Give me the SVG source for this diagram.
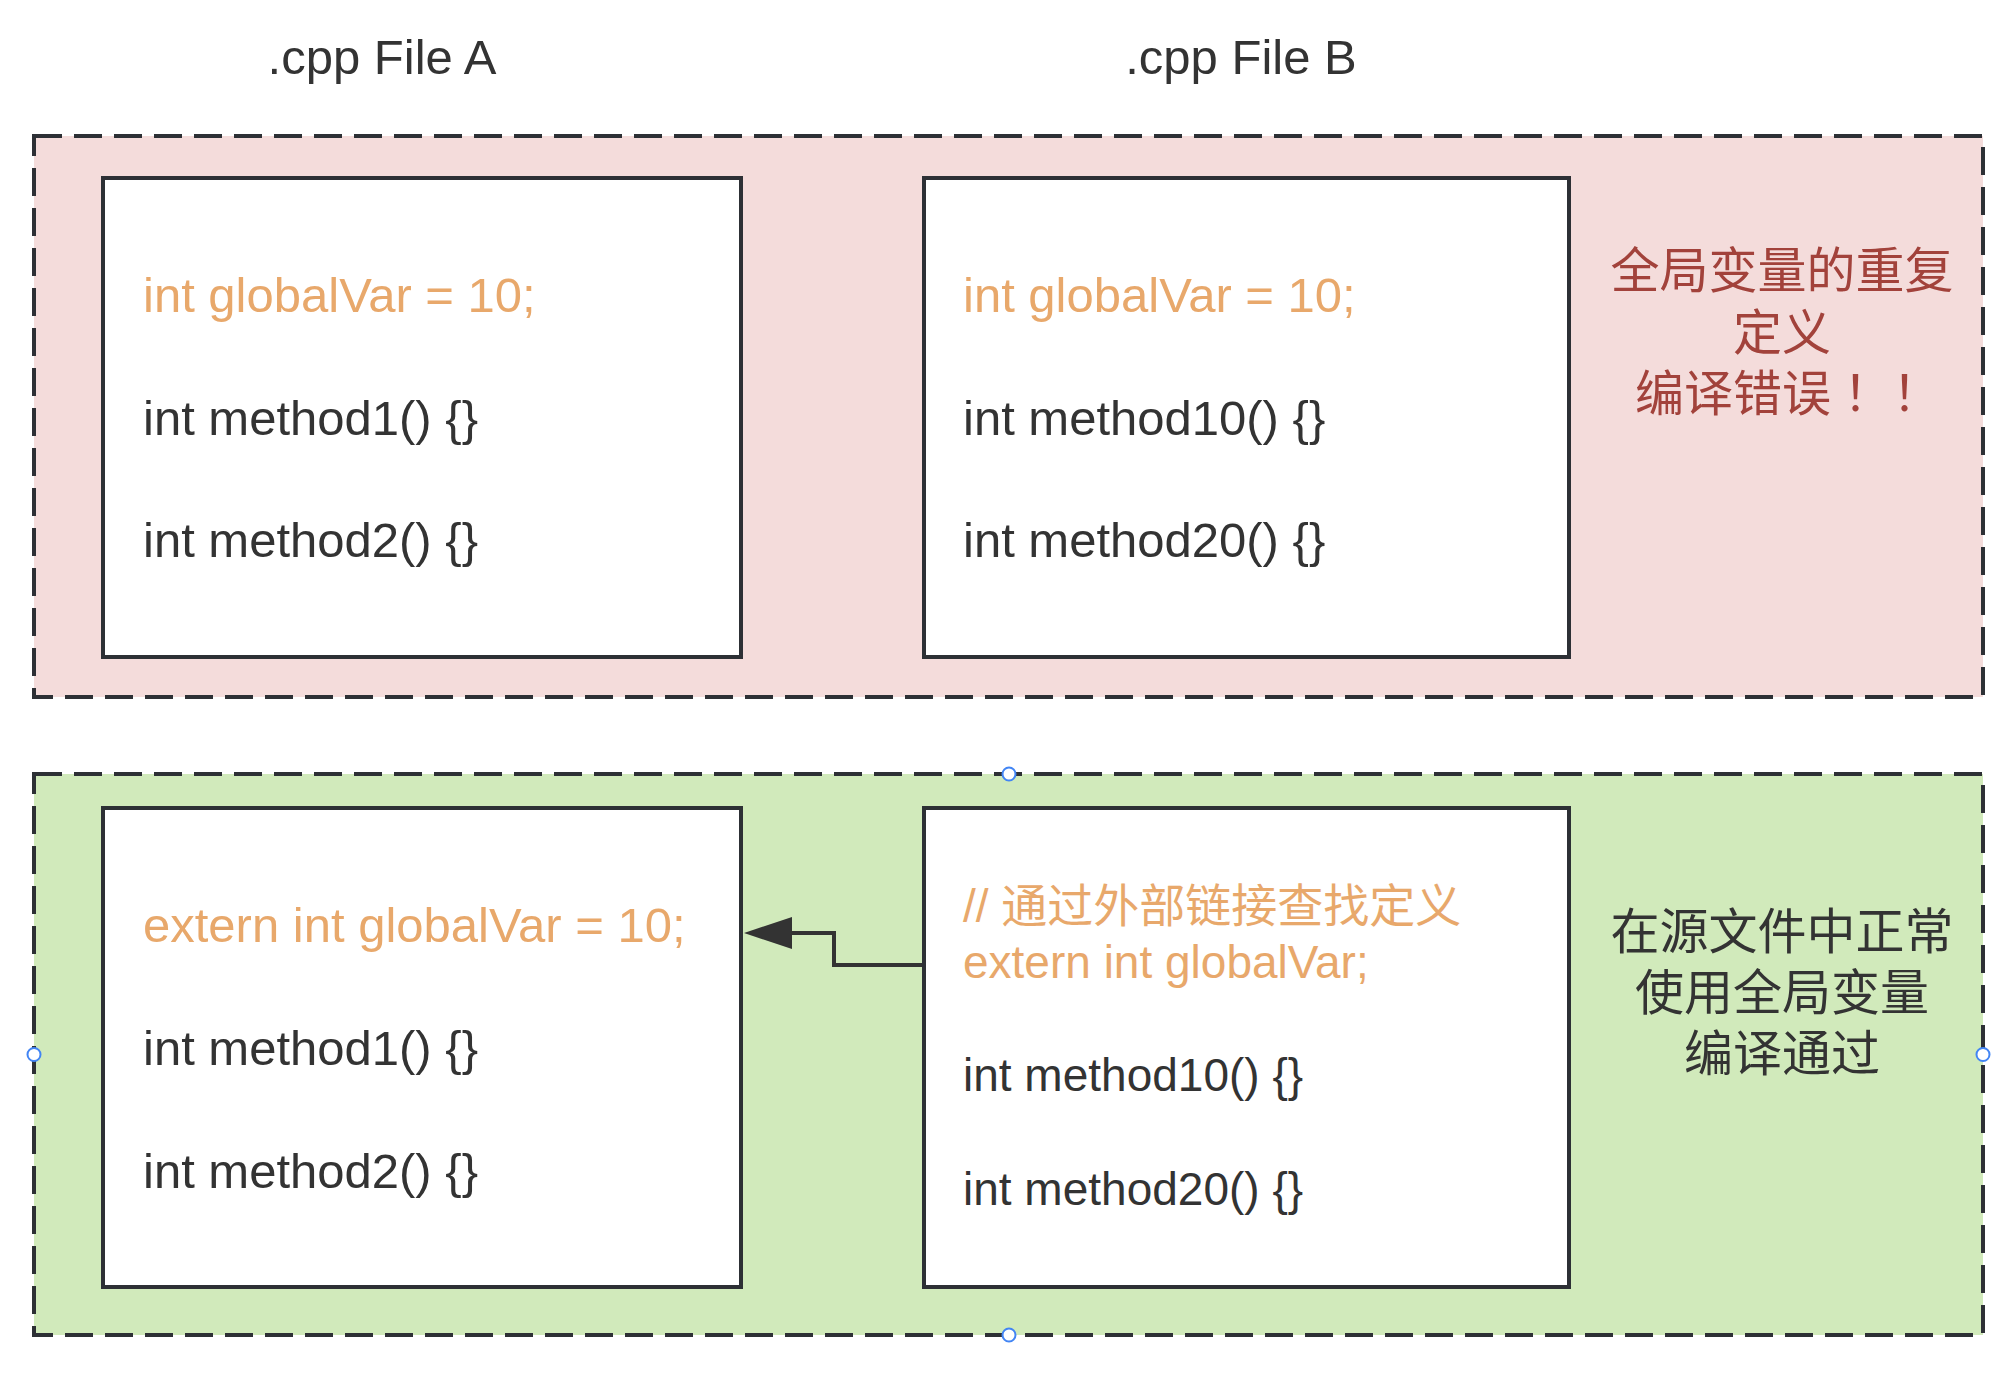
<svg xmlns="http://www.w3.org/2000/svg" width="2008" height="1376" viewBox="0 0 2008 1376">
<defs>
<style>
.container{stroke:#2D3035;stroke-width:4;stroke-dasharray:28 12;}
.box{fill:#FFFFFF;stroke:#2D3035;stroke-width:4;}
.t{font-family:"Liberation Sans","Noto Sans CJK SC",sans-serif;}
.code{font-size:49px;}
.small{font-size:46px;}
.orange{fill:#E8A86B;}
.dark{fill:#333333;}
.red{fill:#A2423B;}
.title{font-size:49px;fill:#333333;text-anchor:middle;}
.note{font-family:"Noto Sans CJK SC","Liberation Sans",sans-serif;font-size:49px;text-anchor:middle;}
.punct{font-family:"Noto Sans CJK TC","Noto Sans CJK SC",sans-serif;}
.handle{fill:#FFFFFF;stroke:#4285F4;stroke-width:2;}
.conn{fill:none;stroke:#333333;stroke-width:4;}
</style>
<marker id="block" viewBox="0 0 48 32" refX="0" refY="16" markerWidth="48" markerHeight="32" markerUnits="userSpaceOnUse" orient="auto">
<path d="M0,0 L48,16 L0,32 z" fill="#333333"/>
</marker>
</defs>
<rect width="2008" height="1376" fill="#FFFFFF"/>

<g id="titles">
<text class="t title" x="382" y="74">.cpp File A</text>
<text class="t title" x="1241" y="74">.cpp File B</text>
</g>

<g id="group-error">
<rect class="container" x="34" y="136" width="1949" height="561" fill="#F4DCDB"/>
<text class="note red" x="1782"><tspan x="1782" y="288">全局变量的重复</tspan><tspan x="1782" y="349.5">定义</tspan><tspan x="1782" y="411">编译错误<tspan class="punct">！！</tspan></tspan></text>
</g>

<g id="group-ok">
<rect class="container" x="34" y="774" width="1949" height="561" fill="#D1EABB"/>
<text class="note dark" x="1782"><tspan x="1782" y="948.5">在源文件中正常</tspan><tspan x="1782" y="1010">使用全局变量</tspan><tspan x="1782" y="1071">编译通过</tspan></text>
</g>

<g id="fileA-top">
<rect class="box" x="103" y="178" width="638" height="479"/>
<text class="t code orange" x="143" y="312">int globalVar = 10;</text>
<text class="t code dark" x="143" y="435">int method1() {}</text>
<text class="t code dark" x="143" y="557">int method2() {}</text>
</g>

<g id="fileB-top">
<rect class="box" x="924" y="178" width="645" height="479"/>
<text class="t code orange" x="963" y="312">int globalVar = 10;</text>
<text class="t code dark" x="963" y="435">int method10() {}</text>
<text class="t code dark" x="963" y="557">int method20() {}</text>
</g>

<g id="fileA-bottom">
<rect class="box" x="103" y="808" width="638" height="479"/>
<text class="t code orange" x="143" y="942">extern int globalVar = 10;</text>
<text class="t code dark" x="143" y="1065">int method1() {}</text>
<text class="t code dark" x="143" y="1188">int method2() {}</text>
</g>

<g id="fileB-bottom">
<rect class="box" x="924" y="808" width="645" height="479"/>
<text class="t small orange" x="963" y="922">// 通过外部链接查找定义</text>
<text class="t small orange" x="963" y="978">extern int globalVar;</text>
<text class="t small dark" x="963" y="1091">int method10() {}</text>
<text class="t small dark" x="963" y="1205">int method20() {}</text>
</g>

<g id="connectors">
<path class="conn" d="M922,965 H834 V933 H792" marker-end="url(#block)"/>
</g>

<g id="handles">
<circle class="handle" cx="1009" cy="774" r="6.5"/>
<circle class="handle" cx="34" cy="1054.5" r="6.5"/>
<circle class="handle" cx="1983" cy="1054.5" r="6.5"/>
<circle class="handle" cx="1009" cy="1335" r="6.5"/>
</g>
</svg>
